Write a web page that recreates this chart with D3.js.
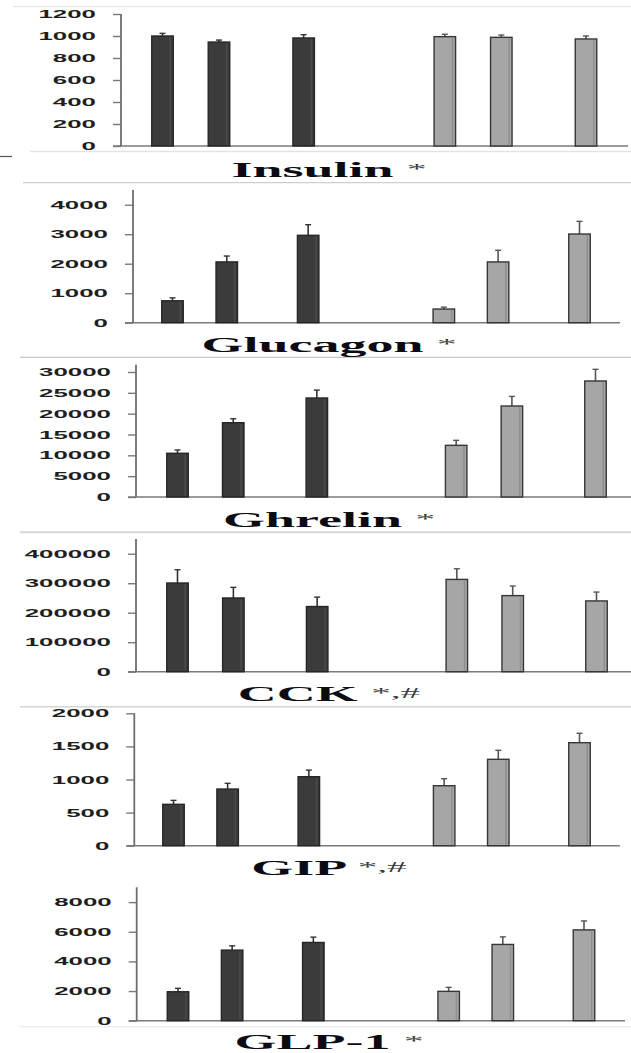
<!DOCTYPE html>
<html>
<head>
<meta charset="utf-8">
<script src="https://cdn.jsdelivr.net/npm/d3@7"></script>
<style>
  html, body { margin: 0; padding: 0; background: #fff; }
  svg { display: block; }
</style>
</head>
<body>
<svg id="chart" width="631" height="1053"></svg>
<script>
// ---------------- DATA ----------------
const hormones = ["Insulin", "Glucagon", "Ghrelin", "CCK", "GIP", "GLP-1"];
const annotations = ["*", "*", "*", "*,#", "*,#", "*"];
const groups = ["Group A", "Group B"];           // dark, gray
const timepoints = ["T1", "T2", "T3"];
const barSlots = [0, 2, 5, 10, 12, 15];          // order of the six bars along the axis

const insulinA = [1000, 945, 982];
const insulinAErr = [24, 18, 30];
const insulinB = [994, 988, 973];
const insulinBErr = [22, 21, 27];

const glucagonA = [743, 2061, 2963];
const glucagonAErr = [100, 200, 360];
const glucagonB = [463, 2061, 3007];
const glucagonBErr = [65, 395, 430];

const ghrelinA = [10490, 17830, 23760];
const ghrelinAErr = [800, 950, 1900];
const ghrelinB = [12400, 21840, 27840];
const ghrelinBErr = [1200, 2300, 2800];

const cckA = [300700, 250000, 221000];
const cckAErr = [45000, 36000, 32000];
const cckB = [313000, 258000, 240000];
const cckBErr = [36000, 32500, 30000];

const gipA = [625, 856, 1042];
const gipAErr = [60, 86, 100];
const gipB = [906, 1305, 1556];
const gipBErr = [106, 136, 142];

const glp1A = [1953, 4761, 5279];
const glp1AErr = [230, 290, 360];
const glp1B = [1980, 5145, 6128];
const glp1BErr = [270, 510, 600];

const insulinTicks = [0, 200, 400, 600, 800, 1000, 1200];
const glucagonTicks = [0, 1000, 2000, 3000, 4000];
const ghrelinTicks = [0, 5000, 10000, 15000, 20000, 25000, 30000];
const cckTicks = [0, 100000, 200000, 300000, 400000];
const gipTicks = [0, 500, 1000, 1500, 2000];
const glp1Ticks = [0, 2000, 4000, 6000, 8000];

const seriesA = [insulinA, glucagonA, ghrelinA, cckA, gipA, glp1A];
const seriesAErr = [insulinAErr, glucagonAErr, ghrelinAErr, cckAErr, gipAErr, glp1AErr];
const seriesB = [insulinB, glucagonB, ghrelinB, cckB, gipB, glp1B];
const seriesBErr = [insulinBErr, glucagonBErr, ghrelinBErr, cckBErr, gipBErr, glp1BErr];
const tickSets = [insulinTicks, glucagonTicks, ghrelinTicks, cckTicks, gipTicks, glp1Ticks];
const axisMaxes = [1200, 4500, 31750, 450000, 2000, 9000];

// ---------------- LAYOUT ----------------
const layout = [
  {axisX: 121,   yTop: 14,    y0: 146,    c0: 162.5, c15: 586,   xEnd: 628, titleY: 177},
  {axisX: 133,   yTop: 190,   y0: 322.7,  c0: 172.5, c15: 579.5, xEnd: 620, titleY: 352},
  {axisX: 136,   yTop: 364.7, y0: 497,    c0: 177.5, c15: 595.5, xEnd: 631, titleY: 527},
  {axisX: 136,   yTop: 539,   y0: 671.7,  c0: 177.5, c15: 596.5, xEnd: 631, titleY: 700.5},
  {axisX: 134.3, yTop: 713.3, y0: 845.7,  c0: 173.5, c15: 579.5, xEnd: 620, titleY: 875},
  {axisX: 136.7, yTop: 887.3, y0: 1020.7, c0: 178,   c15: 584,   xEnd: 625, titleY: 1049}
];
const barW = 21.5;
const labelScale = 2.35;
const titleScale = 2.7;
const titleCenter = 329;

const svg = d3.select("#chart");

// separators (panel borders of the composite figure)
const seps = [
  {y: 6.7, x1: 13, x2: 631, c: "#e6e6e6", w: 1.2},
  {y: 151.5, x1: 30, x2: 631, c: "#e3e3e3", w: 1.5},
  {y: 182.7, x1: 23, x2: 631, c: "#cfcfcf", w: 1.3},
  {y: 357.3, x1: 20, x2: 631, c: "#c8c8c8", w: 1.3},
  {y: 532.3, x1: 20, x2: 631, c: "#d6d6d6", w: 2},
  {y: 706.7, x1: 20, x2: 631, c: "#d6d6d6", w: 1.5},
  {y: 1026.7, x1: 20, x2: 631, c: "#ececec", w: 1.2}
];
svg.selectAll("line.sep").data(seps).join("line")
  .attr("class", "sep")
  .attr("x1", d => d.x1).attr("x2", d => d.x2)
  .attr("y1", d => d.y).attr("y2", d => d.y)
  .attr("stroke", d => d.c).attr("stroke-width", d => d.w);
svg.append("line").attr("x1", 0).attr("x2", 12).attr("y1", 156.5).attr("y2", 156.5)
  .attr("stroke", "#555").attr("stroke-width", 1.2);

hormones.forEach((name, i) => {
  const L = layout[i];
  const g = svg.append("g");
  const y = d3.scaleLinear().domain([0, axisMaxes[i]]).range([L.y0, L.yTop]);
  const x = d3.scaleLinear().domain([0, 15]).range([L.c0, L.c15]);

  // baseline
  g.append("line")
    .attr("x1", L.axisX - 8).attr("x2", L.xEnd)
    .attr("y1", L.y0).attr("y2", L.y0)
    .attr("stroke", "#7a7a7a").attr("stroke-width", 1.6);

  // y axis
  const ax = g.append("g").attr("transform", `translate(${L.axisX},0)`)
    .call(d3.axisLeft(y).tickValues(tickSets[i]).tickSize(8).tickPadding(17)
      .tickFormat(d3.format("d")));
  ax.select(".domain").remove();
  ax.append("line").attr("x1", 0).attr("x2", 0).attr("y1", L.yTop).attr("y2", L.y0)
    .attr("stroke", "#6e6e6e").attr("stroke-width", 1.8);
  ax.selectAll(".tick line").attr("stroke", "#7a7a7a").attr("stroke-width", 1.4);
  ax.selectAll(".tick text").each(function() {
    const t = d3.select(this);
    const xx = +t.attr("x");
    t.attr("x", 0).attr("transform", `translate(${xx},0) scale(${labelScale},1)`)
      .attr("font-family", "'Liberation Sans', Arial, sans-serif")
      .attr("font-weight", "bold").attr("font-size", 11).attr("fill", "#1e1e1e");
  });

  // bars
  const bars = [];
  [seriesA[i], seriesB[i]].forEach((vals, gi) => {
    const errs = gi === 0 ? seriesAErr[i] : seriesBErr[i];
    vals.forEach((v, ti) => {
      bars.push({group: groups[gi], gi, tp: timepoints[ti], v, e: errs[ti], slot: barSlots[gi * 3 + ti]});
    });
  });

  // error bars
  g.selectAll("line.err").data(bars).join("line")
    .attr("class", "err")
    .attr("x1", d => x(d.slot)).attr("x2", d => x(d.slot))
    .attr("y1", d => y(d.v)).attr("y2", d => y(d.v + d.e))
    .attr("stroke", d => d.gi === 0 ? "#333" : "#555").attr("stroke-width", 1.6);
  g.selectAll("line.cap").data(bars).join("line")
    .attr("class", "cap")
    .attr("x1", d => x(d.slot) - 3).attr("x2", d => x(d.slot) + 3)
    .attr("y1", d => y(d.v + d.e)).attr("y2", d => y(d.v + d.e))
    .attr("stroke", d => d.gi === 0 ? "#333" : "#555").attr("stroke-width", 1.4);

  g.selectAll("rect.bar").data(bars).join("rect")
    .attr("class", "bar")
    .attr("x", d => x(d.slot) - barW / 2)
    .attr("width", barW)
    .attr("y", d => y(d.v))
    .attr("height", d => L.y0 - y(d.v))
    .attr("fill", d => d.gi === 0 ? "#3b3b3b" : "#a6a6a6")
    .attr("stroke", d => d.gi === 0 ? "#262626" : "#363636")
    .attr("stroke-width", 1.4);
  g.selectAll("line.shade").data(bars).join("line")
    .attr("class", "shade")
    .attr("x1", d => x(d.slot) + barW / 2 - 3).attr("x2", d => x(d.slot) + barW / 2 - 3)
    .attr("y1", d => y(d.v) + 1).attr("y2", L.y0 - 1)
    .attr("stroke", d => d.gi === 0 ? "#4a4a4a" : "#8f8f8f").attr("stroke-width", 1.5);

  // title
  const title = g.append("text")
    .attr("transform", `translate(${titleCenter},${L.titleY}) scale(${titleScale},1)`)
    .attr("text-anchor", "middle")
    .attr("font-family", "'Liberation Serif', 'Times New Roman', serif")
    .attr("font-weight", "bold").attr("font-size", 20).attr("fill", "#0b0b14");
  title.append("tspan").text(name + " ");
  title.append("tspan").attr("font-size", 14.5).attr("dy", -3).attr("fill", "#3a3a3a")
    .attr("font-weight", "normal")
    .text(annotations[i]);
});
</script>
</body>
</html>
